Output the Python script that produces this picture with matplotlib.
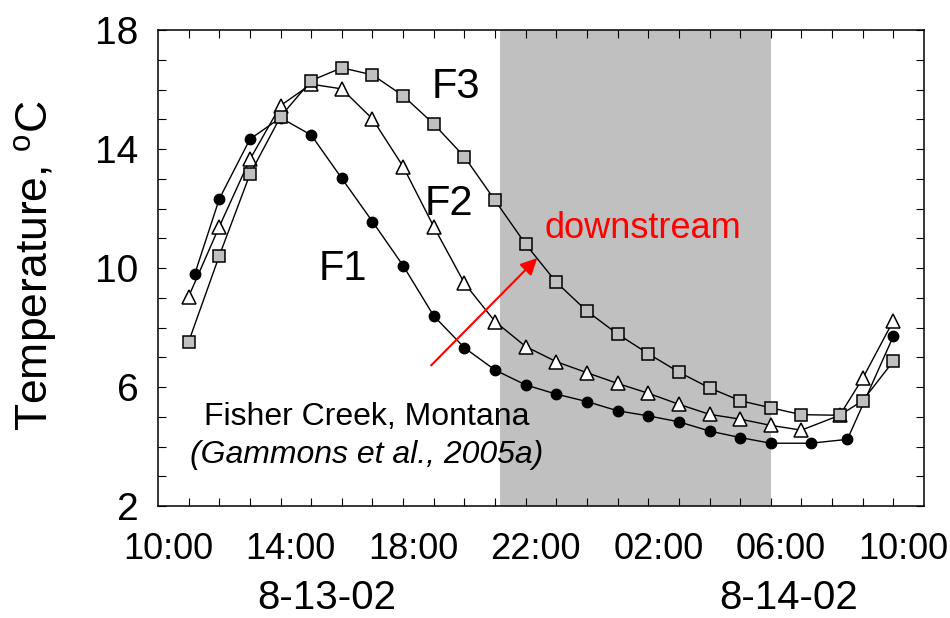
import numpy as np
import matplotlib
matplotlib.use("Agg")
import matplotlib.pyplot as plt

plt.rcParams['font.family'] = ['Liberation Sans', 'DejaVu Sans']
plt.rcParams['mathtext.fontset'] = 'custom'
plt.rcParams['mathtext.rm'] = 'Liberation Sans'

# x is in hourly tick units along the axis (0 = left spine)
f1_x = [1.2, 2, 3, 4, 5, 6, 7, 8, 9, 10, 11, 12, 13, 14, 15, 16, 17, 18, 19, 20, 21.3, 22.5, 24]
f1_y = [9.80, 12.32, 14.33, 15.05, 14.47, 13.01, 11.56, 10.08, 8.39, 7.32, 6.57, 6.07,
        5.76, 5.51, 5.20, 5.03, 4.83, 4.52, 4.30, 4.11, 4.11, 4.24, 7.71]

f2_x = [1, 2, 3, 4, 5, 6, 7, 8, 9, 10, 11, 12, 13, 14, 15, 16, 17, 18, 19, 20, 21, 22.25, 23, 24]
f2_y = [9.04, 11.39, 13.65, 15.46, 16.18, 16.02, 15.01, 13.41, 11.39, 9.49, 8.20, 7.36,
        6.85, 6.48, 6.12, 5.79, 5.42, 5.08, 4.92, 4.71, 4.55, 5.05, 6.29, 8.23]

f3_x = [1, 2, 3, 4, 5, 6, 7, 8, 9, 10, 11, 12, 13, 14, 15, 16, 17, 18, 19, 20, 21, 22.25, 23, 24]
f3_y = [7.52, 10.41, 13.15, 15.09, 16.30, 16.73, 16.49, 15.79, 14.84, 13.74, 12.27, 10.80,
        9.52, 8.55, 7.78, 7.12, 6.50, 5.97, 5.54, 5.30, 5.07, 5.05, 5.54, 6.87]

time_labels = ["10:00", "14:00", "18:00", "22:00", "02:00", "06:00", "10:00"]
date_labels = ["8-13-02", "8-14-02"]
night = (11.16, 20.02)

gray = "#c0c0c0"

fig = plt.figure(figsize=(9.5, 6.18), dpi=100)
ax = fig.add_axes([158/950, 1-506/618, 766/950, 476/618])

ax.axvspan(night[0], night[1], color=gray, lw=0, zorder=0)

ax.plot(f1_x, f1_y, '-o', color='black', lw=1.0, ms=7.5, mfc='black', mec='black', zorder=3)
ax.plot(f2_x, f2_y, '-^', color='black', lw=1.0, ms=9.5, mfc='white', mec='black', mew=1.1, zorder=4)
ax.plot(f3_x, f3_y, '-s', color='black', lw=1.0, ms=8.6, mfc=gray, mec='black', mew=1.1, zorder=5)

ax.set_xlim(0, 25)
ax.set_ylim(2, 18)

ax.set_yticks([2, 6, 10, 14, 18])
ax.set_yticks(np.arange(2, 19, 1), minor=True)
ax.set_xticks([0.33 + 4*i for i in range(len(time_labels))], time_labels)
ax.set_xticks(np.arange(1, 25, 1), minor=True)

ax.tick_params(axis='both', which='both', direction='in', top=True, right=True,
               length=5.8, width=0.8)
ax.tick_params(axis='x', which='major', length=0, labelsize=26, pad=19)
ax.tick_params(axis='y', which='major', labelsize=28, pad=14)
for s in ax.spines.values():
    s.set_linewidth(1.1)

fig.text(36/950, 1-266/618, r"Temperature, $^{\mathrm{o}}$C", rotation=90,
         ha='center', va='center', fontsize=32)

# dates under the time axis
fig.text(327/950, 1/618, date_labels[0], ha='center', va='bottom', fontsize=29)
fig.text(789/950, 1/618, date_labels[1], ha='center', va='bottom', fontsize=29)

ax.text(9.71, 15.70, "F3", ha='center', va='baseline', fontsize=30)
ax.text(9.48, 11.78, "F2", ha='center', va='baseline', fontsize=30)
ax.text(6.02, 9.60, "F1", ha='center', va='baseline', fontsize=30)

ax.text(12.63, 11.01, "downstream", color='red', ha='left', va='baseline', fontsize=26)
ax.annotate('', xy=(12.44, 10.40), xytext=(8.85, 6.66),
            arrowprops=dict(arrowstyle='-|>', color='red', lw=1.5, mutation_scale=25),
            zorder=6)

ax.text(6.8, 4.72, "Fisher Creek, Montana", ha='center', va='baseline', fontsize=23)
ax.text(6.8, 3.45, "(Gammons et al., 2005a)", ha='center', va='baseline', fontsize=23,
        style='italic')

fig.savefig("out.png", dpi=100)
